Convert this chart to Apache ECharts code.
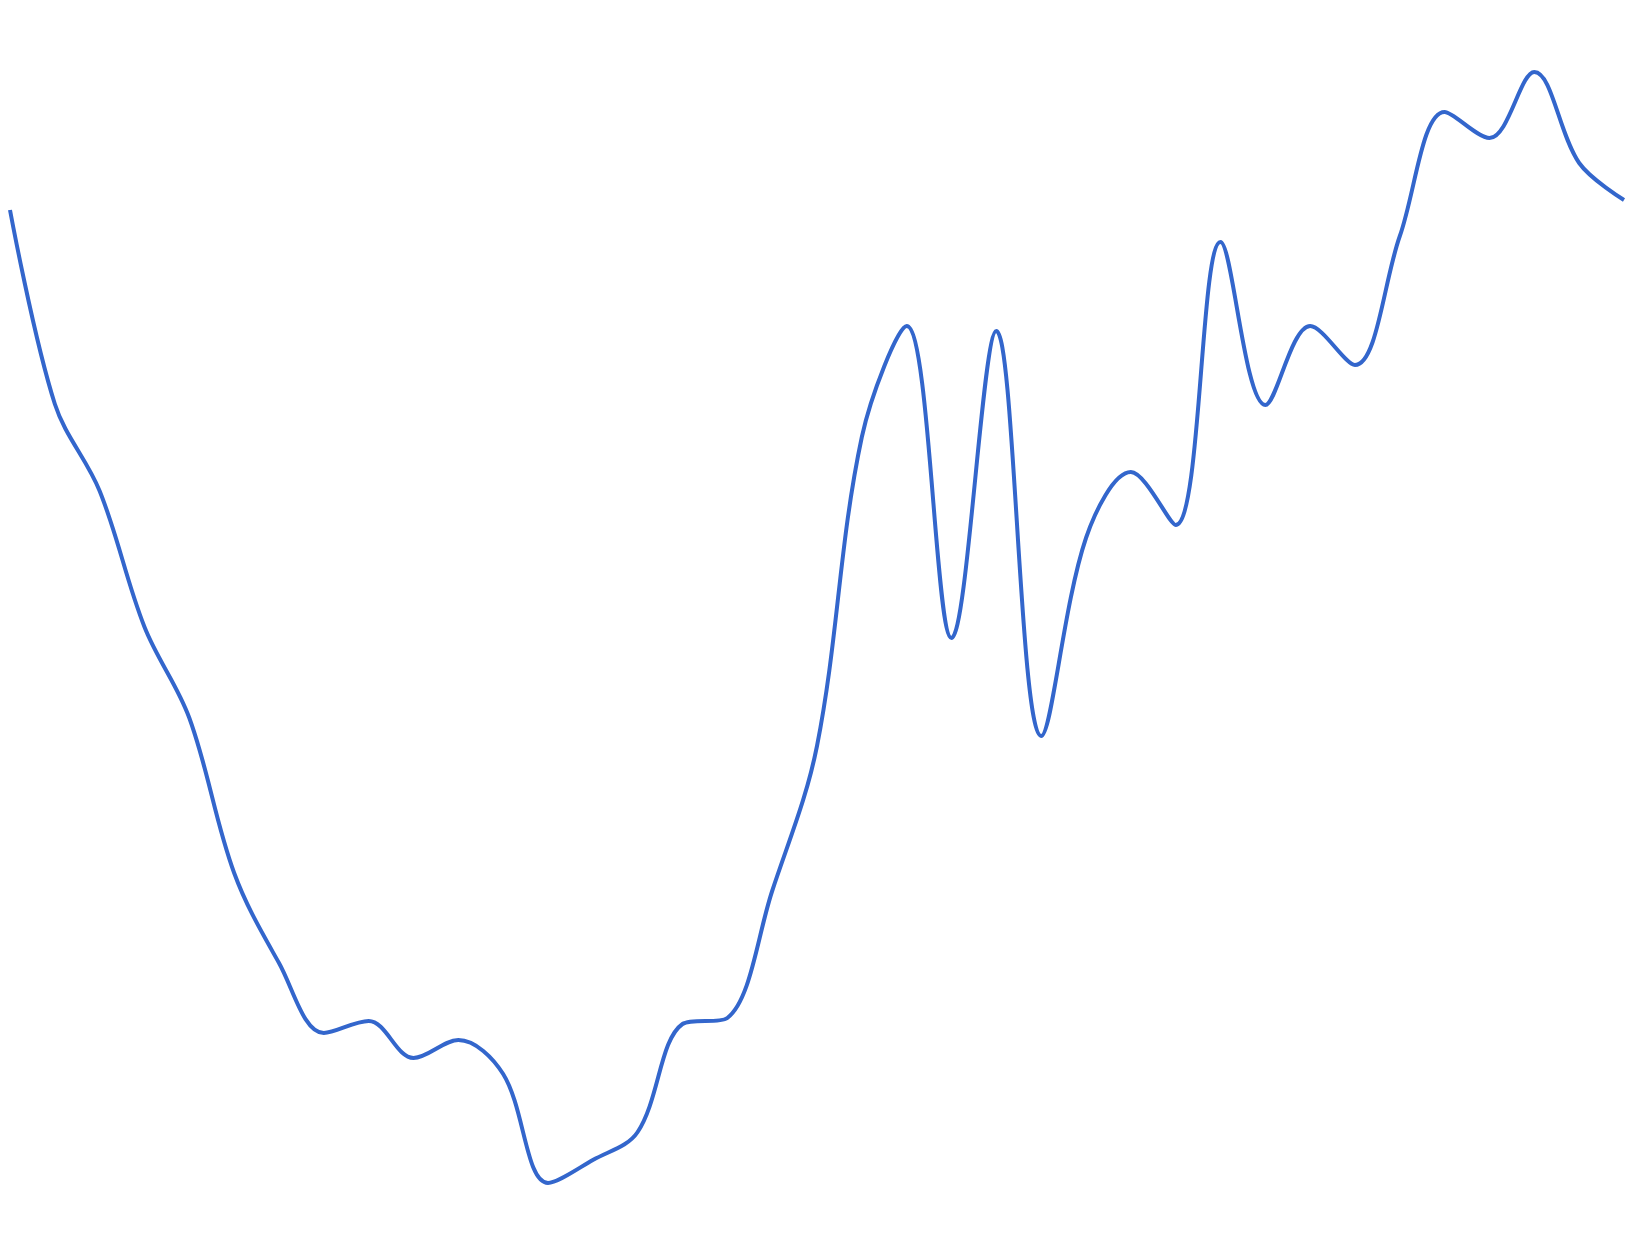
<!DOCTYPE html>
<html>
<head>
<meta charset="utf-8">
<script src="https://cdn.jsdelivr.net/npm/echarts@6/dist/echarts.min.js"></script>
<style>
  html, body { margin: 0; padding: 0; background: #fff; }
  #main { width: 1634px; height: 1255px; }
</style>
</head>
<body>
<div id="main"></div>
<script>
const chart = echarts.init(document.querySelector('#main'))

// no axes are shown in the picture, values are read on an arbitrary scale
const CATEGORIES = [
  '1', '2', '3', '4', '5', '6', '7', '8', '9', '10',
  '11', '12', '13', '14', '15', '16', '17', '18', '19', '20',
  '21', '22', '23', '24', '25', '26', '27', '28', '29', '30',
  '31', '32', '33', '34', '35', '36', '37'
]

const VALUES = [
  99.0, 79.6, 70.9, 57.3, 48.2, 32.7, 23.7, 16.7, 17.9, 14.2,
  16.0, 12.6, 1.7, 4.0, 6.8, 17.6, 18.2, 30.9, 45.4, 76.3,
  87.4, 56.2, 86.9, 46.4, 66.2, 72.8, 67.5, 95.8, 79.5, 87.4,
  83.5, 96.4, 108.8, 106.2, 112.8, 103.7, 100.0
]

const LINE_COLOR = '#3366cc'

let chartOption = {
  animation: false,
  grid: {
    left: 10,
    right: 10,
    top: 50,
    bottom: 55
  },
  xAxis: {
    type: 'category',
    data: CATEGORIES,
    boundaryGap: false,
    show: false
  },
  yAxis: {
    type: 'value',
    min: 0,
    max: 115,
    show: false
  },
  series: [
    {
      type: 'line',
      data: VALUES,
      smooth: 0.35,
      symbol: 'none',
      lineStyle: {
        color: LINE_COLOR,
        width: 4
      }
    }
  ]
}

chart.setOption(chartOption)
</script>
</body>
</html>
